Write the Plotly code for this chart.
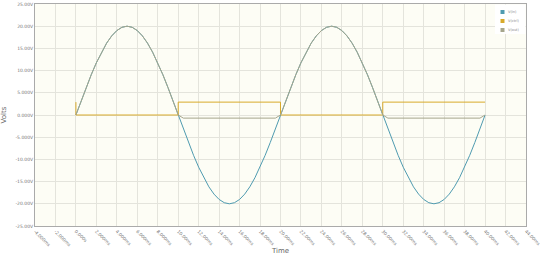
import plotly.graph_objects as go

# time samples (ms) for one cycle, 0.5 ms step, and read input values (V)
cycle_t = [i * 0.5 for i in range(40)]
cycle_in = [0.0, 3.13, 6.18, 9.08, 11.76, 14.14, 16.18, 17.82, 19.02, 19.75,
            20.0, 19.75, 19.02, 17.82, 16.18, 14.14, 11.76, 9.08, 6.18, 3.13,
            0.0, -3.13, -6.18, -9.08, -11.76, -14.14, -16.18, -17.82, -19.02, -19.75,
            -20.0, -19.75, -19.02, -17.82, -16.18, -14.14, -11.76, -9.08, -6.18, -3.13]
cycle_out = [0.0, 3.13, 6.18, 9.08, 11.76, 14.14, 16.18, 17.82, 19.02, 19.75,
             20.0, 19.75, 19.02, 17.82, 16.18, 14.14, 11.76, 9.08, 6.18, 3.13,
             0.0, -0.7, -0.7, -0.7, -0.7, -0.7, -0.7, -0.7, -0.7, -0.7,
             -0.7, -0.7, -0.7, -0.7, -0.7, -0.7, -0.7, -0.7, -0.7, -0.7]

time_ms = cycle_t + [t + 20 for t in cycle_t] + [40.0]
v_in = cycle_in + cycle_in + [0.0]
v_out = cycle_out + cycle_out + [0.0]

ctrl_t = [0, 0, 10, 10, 20, 20, 30, 30, 40]
ctrl_v = [2.9, 0, 0, 2.9, 2.9, 0, 0, 2.9, 2.9]

names = ["V(in)", "V(ctrl)", "V(out)"]
colors = ["#4f9bb0", "#d8aa2a", "#a6a68c"]

x_ticks = list(range(-4, 46, 2))
x_labels = ["%.3fms" % v if abs(v) < 10 else "%.2fms" % v for v in x_ticks]
x_labels[x_ticks.index(0)] = "0.000s"
y_ticks = list(range(-25, 30, 5))
y_labels = ["%.3fV" % v if abs(v) < 10 else "%.2fV" % v for v in y_ticks]

fig = go.Figure()
fig.add_trace(go.Scatter(x=time_ms, y=v_in, mode="lines",
                         line=dict(color=colors[0], width=1), showlegend=False))
fig.add_trace(go.Scatter(x=ctrl_t, y=ctrl_v, mode="lines",
                         line=dict(color=colors[1], width=1), showlegend=False))
fig.add_trace(go.Scatter(x=time_ms, y=v_out, mode="lines",
                         line=dict(color=colors[2], width=1), showlegend=False))

# compact legend drawn in paper coordinates
L, T, W, H = 35, 4, 491, 222
def px(x):
    return (x - L) / W
def py(y):
    return (T + H - y) / H

shapes = [dict(type="rect", xref="paper", yref="paper", x0=px(495), x1=px(525.5),
               y0=py(34), y1=py(4.5), fillcolor="white", line=dict(width=0), layer="above")]
annotations = []
for i, (n, c) in enumerate(zip(names, colors)):
    yc = 12 + i * 9
    shapes.append(dict(type="rect", xref="paper", yref="paper", x0=px(500.5), x1=px(504.5),
                       y0=py(yc + 2), y1=py(yc - 2), fillcolor=c, line=dict(width=0),
                       layer="above"))
    annotations.append(dict(xref="paper", yref="paper", x=px(506), y=py(yc), text=n,
                            showarrow=False, xanchor="left", yanchor="middle",
                            font=dict(size=3.5, color="#888888")))

fig.update_layout(
    width=540, height=258,
    margin=dict(l=L, r=540 - L - W, t=T, b=258 - T - H, autoexpand=False),
    paper_bgcolor="white", plot_bgcolor="#fdfdf5",
    font=dict(family="DejaVu Sans", color="#666666", size=5),
    showlegend=False,
    shapes=shapes, annotations=annotations,
    xaxis=dict(range=[-4, 44.001], tickvals=x_ticks, ticktext=x_labels, tickangle=45,
               automargin=False, ticklabeloverflow="allow",
               showgrid=True, gridcolor="#e4e4dc", gridwidth=1, zeroline=False,
               showline=True, linecolor="#aaaaaa", linewidth=1, mirror=True,
               tickfont=dict(size=4.5, color="#777777"),
               title=dict(text="Time", font=dict(size=7, color="#666666"), standoff=1)),
    yaxis=dict(range=[-25, 25], tickvals=y_ticks, ticktext=y_labels,
               automargin=False,
               showgrid=True, gridcolor="#e4e4dc", gridwidth=1, zeroline=False,
               showline=True, linecolor="#aaaaaa", linewidth=1, mirror=True,
               tickfont=dict(size=4.5, color="#777777"),
               title=dict(text="Volts", font=dict(size=7, color="#666666"), standoff=11)),
)

fig.write_html("out.html")
